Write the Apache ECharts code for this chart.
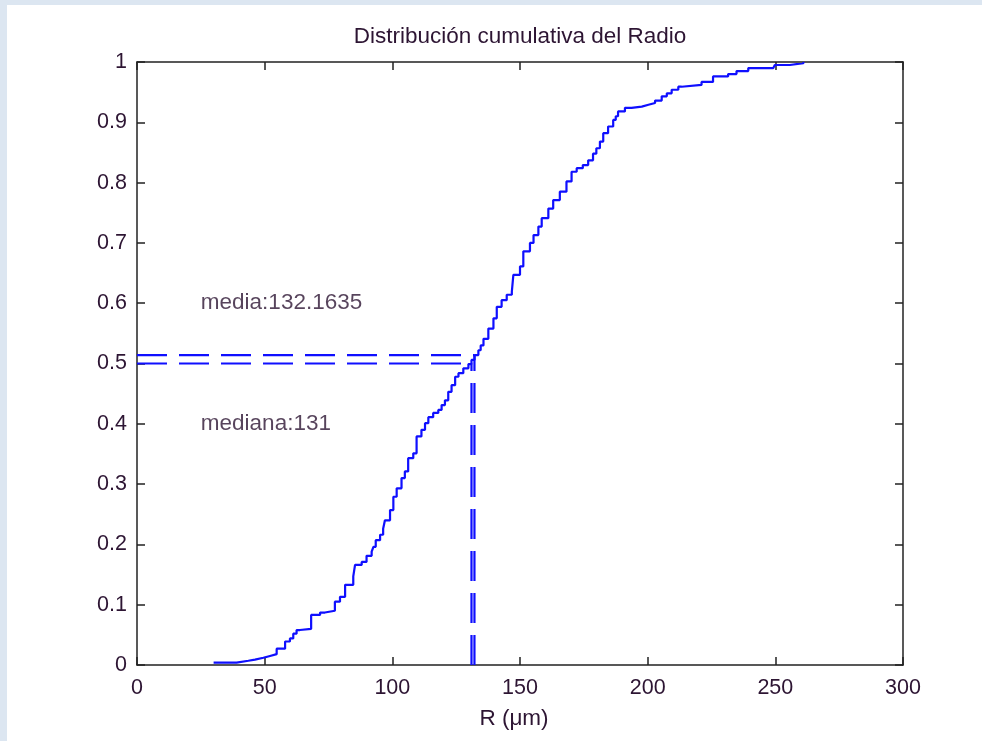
<!DOCTYPE html>
<html>
<head>
<meta charset="utf-8">
<script src="https://cdn.jsdelivr.net/npm/echarts@6/dist/echarts.min.js"></script>
<style>
  html, body { margin: 0; padding: 0; background: #dce6f1; }
  #chart { position: absolute; left: 7px; top: 5px; width: 975px; height: 736px; background: #ffffff; }
</style>
</head>
<body>
<div id="chart"></div>
<script>
// Empirical cumulative distribution of the radius (µm)
const radius = [30, 39, 43.6, 46.2, 49.5, 52.1, 54.7, 58, 59.9, 61.2, 62.5, 63.8, 68.2, 71.7, 73.6, 77.5, 79.5, 81.5, 84.7, 85.4, 88, 89.9, 91.9, 92.6, 93.5, 95.2, 96.4, 97.1, 99.1, 100.4, 101.7, 103.6, 104.9, 106.2, 108.2, 109.5, 111.4, 112.8, 114.1, 116, 118, 119.3, 120.6, 121.9, 123.2, 124.6, 125.9, 127.8, 129.8, 131, 132.2, 133.7, 134.6, 135.7, 137.6, 139.6, 140.9, 142.8, 144.8, 146.8, 147.4, 150, 151.3, 153.9, 155.3, 157.2, 158.5, 161.1, 163, 165.6, 168.2, 170.2, 172.2, 174.6, 176.7, 178.6, 179.9, 181.3, 182.6, 184.5, 186.5, 187.5, 188.4, 191.1, 193.7, 197.7, 200.3, 202.9, 205.5, 207.5, 209.4, 212, 213.3, 221.1, 225.6, 231.5, 234.8, 239.4, 249.2, 249.8, 255.7, 256.4, 261];
const cumulative = [0.004, 0.007, 0.009, 0.012, 0.015, 0.018, 0.027, 0.039, 0.044, 0.052, 0.058, 0.060, 0.083, 0.087, 0.090, 0.105, 0.113, 0.133, 0.147, 0.166, 0.171, 0.181, 0.188, 0.196, 0.207, 0.216, 0.226, 0.240, 0.257, 0.279, 0.293, 0.310, 0.321, 0.343, 0.351, 0.379, 0.390, 0.401, 0.411, 0.418, 0.423, 0.431, 0.439, 0.453, 0.464, 0.478, 0.484, 0.492, 0.499, 0.506, 0.514, 0.522, 0.530, 0.541, 0.558, 0.575, 0.594, 0.605, 0.614, 0.619, 0.647, 0.661, 0.686, 0.700, 0.713, 0.727, 0.741, 0.757, 0.771, 0.785, 0.802, 0.818, 0.824, 0.829, 0.837, 0.848, 0.857, 0.868, 0.882, 0.893, 0.904, 0.910, 0.918, 0.924, 0.926, 0.929, 0.932, 0.936, 0.943, 0.948, 0.954, 0.959, 0.962, 0.967, 0.976, 0.980, 0.985, 0.990, 0.992, 0.995, 0.997, 0.998, 1.0];

// Summary statistics and the CDF level reached at each
const meanValue = 132.1635;
const meanLevel = 0.514;
const medianValue = 131;
const medianLevel = 0.5;

const titleText = 'Distribución cumulativa del Radio';
const xAxisName = 'R (μm)';
const meanLabel = 'media:' + meanValue;
const medianLabel = 'mediana:' + medianValue;
const labelX = 25;
const meanLabelY = 0.6;
const medianLabelY = 0.4;

const FONT = '"Liberation Sans", Arial, sans-serif';
const TEXT = '#2d1533';
const AXIS = '#222222';
const BLUE = '#0f0fff';
const LW = 2.2;

const GRID = { left: 130, top: 57, right: 79, bottom: 76 };
const chartWidth = 975;

const chart = echarts.init(document.getElementById('chart'), null, { renderer: 'canvas' });

const axisCommon = {
  type: 'value',
  axisLine: { show: true, onZero: false, lineStyle: { color: AXIS, width: 1.5 } },
  axisTick: { show: true, inside: true, length: 8, lineStyle: { color: AXIS, width: 1.5 } },
  splitLine: { show: false }
};

const dash = [30, 12];

chart.setOption({
  animation: false,
  backgroundColor: '#ffffff',
  // title centred over the plot area
  graphic: [{
    type: 'text',
    x: GRID.left + (chartWidth - GRID.left - GRID.right) / 2,
    y: 32,
    style: {
      text: titleText,
      fontFamily: FONT, fontSize: 22.5, fill: TEXT,
      align: 'center', verticalAlign: 'middle'
    }
  }],
  grid: Object.assign({ containLabel: false }, GRID),
  xAxis: [
    Object.assign({}, axisCommon, {
      min: 0, max: 300, interval: 50, position: 'bottom',
      name: xAxisName, nameLocation: 'middle', nameGap: 54,
      nameTextStyle: {
        fontFamily: FONT, fontSize: 22.5, color: TEXT, verticalAlign: 'middle',
        padding: [0, 12, 0, 0]
      },
      axisLabel: { margin: 12, fontFamily: FONT, fontSize: 21.5, color: TEXT }
    }),
    Object.assign({}, axisCommon, {
      min: 0, max: 300, interval: 50, position: 'top',
      axisLabel: { show: false }
    })
  ],
  yAxis: [
    Object.assign({}, axisCommon, {
      min: 0, max: 1, interval: 0.1, position: 'left',
      axisLabel: {
        margin: 10, fontFamily: FONT, fontSize: 21.5, color: TEXT,
        formatter: v => String(+v.toFixed(1))
      }
    }),
    Object.assign({}, axisCommon, {
      min: 0, max: 1, interval: 0.1, position: 'right',
      axisLabel: { show: false }
    })
  ],
  series: [
    {
      type: 'line',
      step: 'end',
      symbol: 'none',
      data: radius.map((r, i) => [r, cumulative[i]]),
      lineStyle: { color: BLUE, width: LW },
      z: 3
    },
    {
      type: 'line', symbol: 'none',
      data: [[0, meanLevel], [meanValue, meanLevel]],
      lineStyle: { color: BLUE, width: LW, type: dash }
    },
    {
      type: 'line', symbol: 'none',
      data: [[meanValue, 0], [meanValue, meanLevel]],
      lineStyle: { color: BLUE, width: LW, type: dash }
    },
    {
      type: 'line', symbol: 'none',
      data: [[0, medianLevel], [medianValue, medianLevel]],
      lineStyle: { color: BLUE, width: LW, type: dash }
    },
    {
      type: 'line', symbol: 'none',
      data: [[medianValue, 0], [medianValue, medianLevel]],
      lineStyle: { color: BLUE, width: LW, type: dash }
    },
    {
      type: 'scatter',
      symbolSize: 0,
      silent: true,
      data: [
        { value: [labelX, meanLabelY], label: { formatter: meanLabel } },
        { value: [labelX, medianLabelY], label: { formatter: medianLabel } }
      ],
      label: {
        show: true, position: [0, 0], align: 'left', verticalAlign: 'middle',
        fontFamily: FONT, fontSize: 22.5, color: TEXT
      }
    }
  ]
});
</script>
</body>
</html>
